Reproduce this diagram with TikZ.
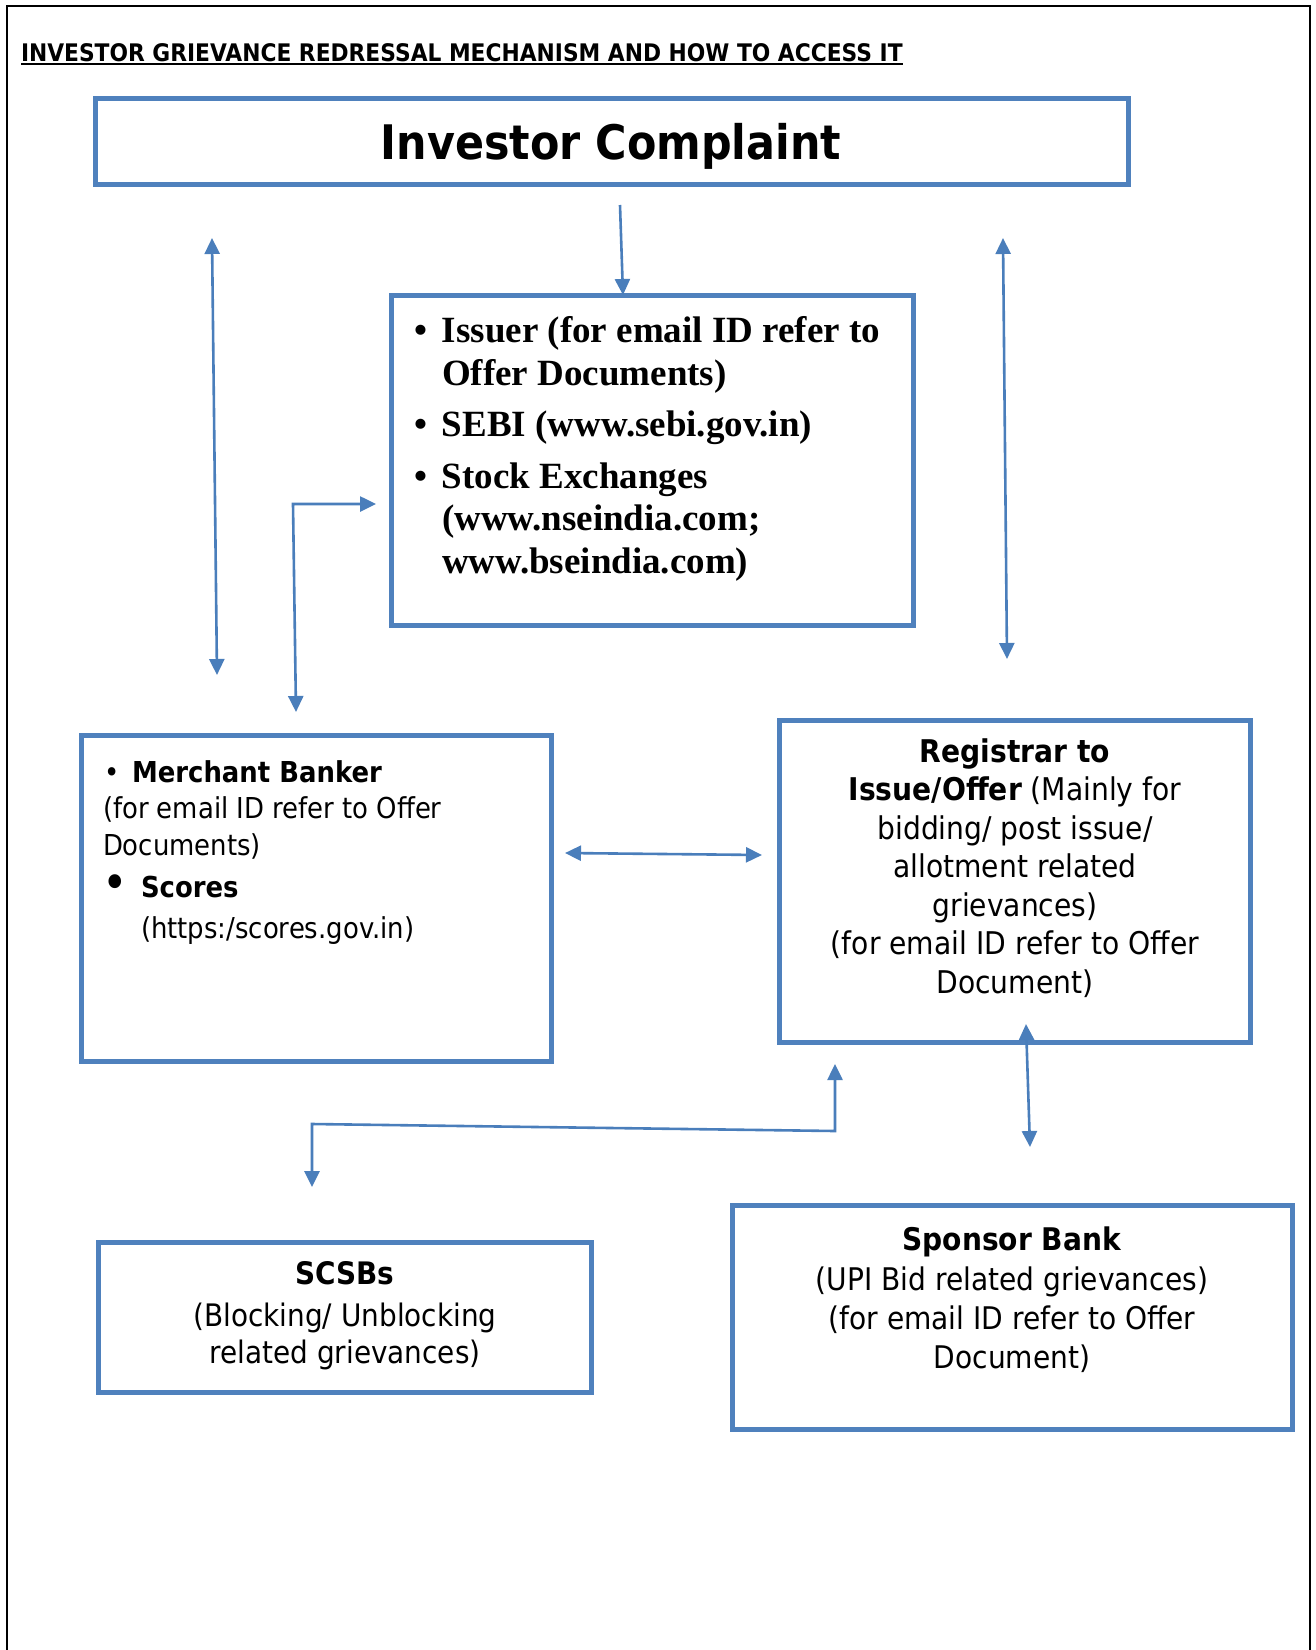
\documentclass[tikz,border=0pt]{standalone}
\usepackage{fontspec}
\setmainfont{Liberation Serif}
\newfontfamily\tah[FakeStretch=0.9]{DejaVu Sans}
\usetikzlibrary{arrows.meta}
\definecolor{boxblue}{RGB}{79,129,189}
\definecolor{arrblue}{RGB}{74,126,187}
\tikzset{
  box/.style={draw=boxblue, line width=5.5pt, inner sep=0pt},
  tip/.tip={Triangle[length=16pt,width=15pt]},
  conn/.style={draw=arrblue, line width=2.6pt, -tip},
  dconn/.style={draw=arrblue, line width=2.6pt, tip-tip},
  txt/.style={inner sep=0pt, outer sep=0pt},
}
\begin{document}
\begin{tikzpicture}[x=1pt,y=-1pt]
\useasboundingbox (0,0) rectangle (1316,1650);
% outer frame
\draw[line width=1.5pt] (7,1650) -- (7,6) -- (1310,6) -- (1310,1650);
% title
\node[txt, anchor=base west] (title) at (21,61) {\tah\bfseries\fontsize{24.2}{29}\selectfont INVESTOR GRIEVANCE REDRESSAL MECHANISM AND HOW TO ACCESS IT};
\draw[line width=2.4pt] ([yshift=-3pt]title.base west) -- ([yshift=-3pt]title.base east);
% boxes
\node[box, minimum width=1032.6pt, minimum height=85.6pt] (ic) at (612,141.5) {};
\node[txt, anchor=base] (ict) at (611,159) {\tah\bfseries\fontsize{47.6}{55}\selectfont Investor Complaint};
\node[box, minimum width=522pt, minimum height=330pt] (iss) at (652.5,460.5) {};
\node[txt, anchor=base west, align=left, font={\bfseries\fontsize{37}{42.5}\selectfont}] (isst) at (418,573) {%
\makebox[24pt][l]{\hspace*{-4pt}\textbullet}Issuer (for email ID refer to\\
\hspace*{24pt}Offer Documents)\\[9pt]
\makebox[24pt][l]{\hspace*{-4pt}\textbullet}SEBI (www.sebi.gov.in)\\[9pt]
\makebox[24pt][l]{\hspace*{-4pt}\textbullet}Stock Exchanges\\
\hspace*{24pt}(www.nseindia.com;\\
\hspace*{24pt}www.bseindia.com)};
\node[box, minimum width=469.6pt, minimum height=325.6pt] (mb) at (316.5,898.5) {};
\node[txt, anchor=base west, align=left, font={\tah\fontsize{28.8}{36.5}\selectfont}] (mbt) at (103,938) {%
\hspace*{1pt}\makebox[28pt][l]{\textbullet}\textbf{Merchant Banker}\\
(for email ID refer to Offer\\
Documents)\\[5.5pt]
\hspace*{-1pt}\makebox[39pt][l]{\raisebox{-2.5pt}{\fontsize{48}{36}\selectfont\textbullet}}\textbf{Scores}\\[4.5pt]
\hspace*{38pt}(https:/scores.gov.in)};
\node[box, minimum width=471pt, minimum height=322pt] (rti) at (1015,881.5) {};
\node[txt, anchor=base, align=center, font={\tah\fontsize{31.3}{38.5}\selectfont}] (rtit) at (1015,993) {%
\textbf{Registrar to}\\
\textbf{Issue/Offer} (Mainly for\\
bidding/ post issue/\\
allotment related\\
grievances)\\
(for email ID refer to Offer\\
Document)};
\node[box, minimum width=493pt, minimum height=150pt] (scsb) at (345,1317.5) {};
\node[txt, anchor=base, align=center, font={\tah\fontsize{31}{36.5}\selectfont}] (scsbt) at (345,1363) {%
\textbf{SCSBs}\\[5.5pt]
(Blocking/ Unblocking\\
related grievances)};
\node[box, minimum width=559.6pt, minimum height=223.6pt] (spb) at (1012.5,1317.5) {};
\node[txt, anchor=base, align=center, font={\tah\fontsize{31.2}{38.7}\selectfont}] (spbt) at (1012,1368) {%
\textbf{Sponsor Bank}\\[1.5pt]
(UPI Bid related grievances)\\
(for email ID refer to Offer\\
Document)};
% connector end points
\coordinate (c1a) at (620,205);
\coordinate (c1b) at (623,295);
\coordinate (c2a) at (212,238);
\coordinate (c2b) at (217,675);
\coordinate (c3a) at (376,504);
\coordinate (c3m) at (293,504);
\coordinate (c3b) at (296,712);
\coordinate (c4a) at (1003,238);
\coordinate (c4b) at (1007,659);
\coordinate (c5a) at (565,853);
\coordinate (c5b) at (762,855);
\coordinate (c6a) at (1026,1024);
\coordinate (c6b) at (1030,1147);
\coordinate (c7a) at (835,1064);
\coordinate (c7m) at (835,1131);
\coordinate (c7n) at (312,1124);
\coordinate (c7b) at (312,1187);
% connectors
\draw[conn] (c1a) -- (c1b);
\draw[dconn] (c2a) -- (c2b);
\draw[dconn] (c3a) -- (c3m) -- (c3b);
\draw[dconn] (c4a) -- (c4b);
\draw[dconn] (c5a) -- (c5b);
\draw[dconn] (c6a) -- (c6b);
\draw[dconn] (c7a) -- (c7m) -- (c7n) -- (c7b);
\end{tikzpicture}
\end{document}
